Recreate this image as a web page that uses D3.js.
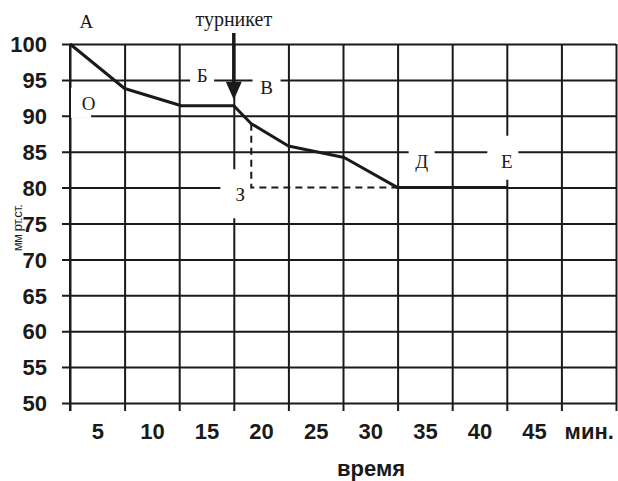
<!DOCTYPE html>
<html>
<head>
<meta charset="utf-8">
<script src="https://cdn.jsdelivr.net/npm/d3@7"></script>
<style>
  body { margin: 0; background: #fff; }
  svg { display: block; }
  .num { font-family: "Liberation Sans", Arial, sans-serif; font-size: 22px; font-weight: bold; fill: #1a1a1a; }
  .serif { font-family: "Liberation Serif", "Times New Roman", serif; fill: #1a1a1a; }
</style>
</head>
<body>
<div class="chart"></div>
<script>
// pressure during tourniquet test
// grid every 5 min / 5 mm
var timeTicks = [0, 5, 10, 15, 20, 25, 30, 35, 40, 45, 50];
var timeLabels = ["5", "10", "15", "20", "25", "30", "35", "40", "45", "мин."];
var pressureTicks = [50, 55, 60, 65, 70, 75, 80, 85, 90, 95, 100];

// curve
var curveTime = [0, 5, 10.2, 15, 16.6, 20, 25.1, 30, 40];
var curvePressure = [100, 93.8, 91.4, 91.4, 88.9, 85.8, 84.2, 80, 80];

// point letters (centre of the letter, in minutes / mm)
var letterNames = ["А", "О", "Б", "В", "З", "Д", "Е"];
var letterTime = [1.5, 1.7, 12.1, 18.0, 15.6, 32.2, 40];
var letterPressure = [103.1, 91.8, 95.7, 94.0, 79.0, 83.6, 83.6];

// tourniquet moment and the drop it is read against
var tourniquetTime = 15;
var dropTime = 16.6;
var dropFrom = 88.9;
var dropTo = 80;
var dropEndTime = 30;

var svgWidth = 618, svgHeight = 481;
var margin = { top: 44, right: 2, bottom: 78, left: 70 };
var chartWidth = svgWidth - margin.left - margin.right;
var chartHeight = svgHeight - margin.top - margin.bottom;

var svg = d3.select(".chart").append("svg")
  .attr("width", svgWidth)
  .attr("height", svgHeight);

var g = svg.append("g")
  .attr("transform", `translate(${margin.left}, ${margin.top})`);

var x = d3.scaleLinear().domain([0, 50]).range([0, chartWidth]);
var y = d3.scaleLinear().domain([50, 100]).range([chartHeight, 0]);

var ink = "#1a1a1a";

// horizontal grid + y labels
var yAxis = g.append("g")
  .call(d3.axisLeft(y).tickValues(pressureTicks).tickSize(0).tickPadding(23));
yAxis.select(".domain").remove();
yAxis.selectAll(".tick line")
  .attr("x1", -8).attr("x2", chartWidth)
  .attr("stroke", ink).attr("stroke-width", 2);
yAxis.selectAll(".tick text")
  .attr("class", "num").attr("dy", "0.35em").attr("font-size", null).attr("font-family", null);

// the 80 line is dashed between the drop and point Д
g.append("rect")
  .attr("x", x(dropTime) - 1).attr("y", y(dropTo) - 2)
  .attr("width", x(dropEndTime) - x(dropTime)).attr("height", 4)
  .attr("fill", "#fff");

// vertical grid, ticks below the axis
var xAxis = g.append("g")
  .attr("transform", `translate(0, ${chartHeight})`)
  .call(d3.axisBottom(x).tickValues(timeTicks).tickSize(0).tickFormat(""));
xAxis.select(".domain").remove();
xAxis.selectAll(".tick line")
  .attr("y1", 8).attr("y2", -chartHeight)
  .attr("stroke", ink).attr("stroke-width", 2);

// labels sit in the middle of each 5-min cell
var labelAxis = g.append("g")
  .attr("transform", `translate(0, ${chartHeight})`)
  .call(d3.axisBottom(x)
    .tickValues(timeLabels.map(function (d, i) { return i * 5 + 2.5; }))
    .tickSize(0).tickPadding(20)
    .tickFormat(function (d, i) { return timeLabels[i]; }));
labelAxis.select(".domain").remove();
labelAxis.selectAll(".tick text")
  .attr("class", "num").attr("dy", "0.71em").attr("font-size", null).attr("font-family", null);

// white boxes behind the letters (they break the grid)
var boxW = [0, 21, 24, 28, 30, 26, 31];
var boxH = [0, 30, 26, 28, 49, 36, 44];
var boxDx = [0, -8, 0, 0, -5, 0, -4];
var boxDy = [0, 0, 2, 0, -1, 0, -4];
letterNames.forEach(function (n, i) {
  if (!boxW[i]) return;
  g.append("rect")
    .attr("x", x(letterTime[i]) + boxDx[i] - boxW[i] / 2)
    .attr("y", y(letterPressure[i]) + boxDy[i] - boxH[i] / 2)
    .attr("width", boxW[i]).attr("height", boxH[i])
    .attr("fill", "#fff");
});
// the О box must not eat the left axis
g.append("line")
  .attr("x1", x(0)).attr("x2", x(0))
  .attr("y1", y(100)).attr("y2", y(50) + 8)
  .attr("stroke", ink).attr("stroke-width", 2);

// dashed drop lines
g.append("path")
  .attr("d", d3.line()([
    [x(dropTime), y(dropFrom)], [x(dropTime), y(dropTo)], [x(dropEndTime), y(dropTo)]
  ]))
  .attr("fill", "none").attr("stroke", ink)
  .attr("stroke-width", 2).attr("stroke-dasharray", "7,5");

// curve
var line = d3.line()
  .x(function (d, i) { return x(curveTime[i]); })
  .y(function (d) { return y(d); });
g.append("path")
  .datum(curvePressure)
  .attr("d", line)
  .attr("fill", "none").attr("stroke", ink)
  .attr("stroke-width", 3).attr("stroke-linejoin", "round");

// tourniquet arrow
var ax = x(tourniquetTime);
var tipY = y(curvePressure[3]) - 6;
g.append("line")
  .attr("x1", ax).attr("x2", ax)
  .attr("y1", -11).attr("y2", tipY - 12)
  .attr("stroke", ink).attr("stroke-width", 3.5);
g.append("path")
  .attr("d", `M${ax - 8},${tipY - 18}L${ax + 8},${tipY - 18}L${ax},${tipY}Z`)
  .attr("fill", ink);
g.append("text")
  .attr("class", "serif")
  .attr("x", ax).attr("y", -18)
  .attr("text-anchor", "middle")
  .attr("font-size", 20)
  .text("турникет");

// letters
letterNames.forEach(function (n, i) {
  g.append("text")
    .attr("class", "serif")
    .attr("x", x(letterTime[i])).attr("y", y(letterPressure[i]))
    .attr("dy", "0.35em")
    .attr("text-anchor", "middle")
    .attr("font-size", 19)
    .text(n);
});

// axis titles
svg.append("text")
  .attr("class", "num")
  .attr("transform", "translate(22, 228) rotate(-90)")
  .attr("text-anchor", "middle")
  .style("font-size", "13px")
  .style("font-weight", "normal")
  .style("letter-spacing", "-0.5px")
  .text("мм рт.ст.");

svg.append("text")
  .attr("class", "num")
  .attr("x", 371).attr("y", 476)
  .attr("text-anchor", "middle")
  .text("время");
</script>
</body>
</html>
